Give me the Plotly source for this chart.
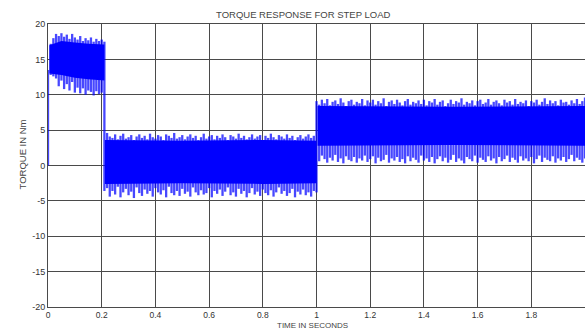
import numpy as np
import plotly.graph_objects as go

# ---- data (per-bin min / max of the torque signal, Nm) ----
# segment 1: 0.00 .. 0.21 s (bins every 0.01 s)
seg1_t = [round(0.01 * i, 3) for i in range(22)]
seg1_hi = [13.5, 17.2, 18.0, 18.6, 18.3, 18.7, 18.2, 18.5, 17.9, 18.6, 18.1,
           17.8, 18.3, 17.6, 18.0, 17.7, 18.1, 17.5, 17.9, 17.6, 17.8, 17.5]
seg1_lo = [0.0, 12.8, 12.6, 12.3, 11.2, 12.0, 10.8, 11.5, 10.6, 11.8, 10.3,
           11.0, 10.2, 10.9, 10.0, 10.6, 10.4, 9.9, 10.5, 10.1, 10.3, -3.6]

# segment 2: 0.22 .. 0.99 s
seg2_t = [round(0.22 + 0.01 * i, 3) for i in range(78)]
seg2_hi = [4.6, 4.1, 3.9, 4.4, 3.7, 4.2, 4.5, 3.8, 4.0, 4.3, 3.6, 4.1, 4.4, 3.9, 4.2, 3.7, 4.5, 4.0, 3.8, 4.3,
           4.1, 3.6, 4.4, 4.2, 3.9, 4.6, 3.8, 4.0, 4.3, 3.7, 4.1, 4.4, 3.9, 4.2, 3.6, 4.0, 4.5, 3.8, 4.1, 4.3,
           3.7, 4.2, 3.9, 4.4, 4.0, 3.6, 4.3, 4.1, 3.8, 4.5, 3.9, 4.2, 3.7, 4.0, 4.4, 3.8, 4.1, 4.3, 3.6, 4.2,
           3.9, 4.5, 4.0, 3.7, 4.3, 4.1, 3.8, 4.4, 3.9, 4.2, 3.6, 4.0, 4.3, 3.8, 4.1, 4.4, 3.9, 4.2]
seg2_lo = [-3.2, -4.4, -3.6, -4.1, -3.0, -4.5, -3.8, -3.3, -4.2, -3.7, -4.6, -3.1, -3.9, -4.3, -3.4, -4.0, -3.6, -4.4, -3.2, -3.8,
           -4.1, -3.5, -4.5, -3.0, -3.9, -4.2, -3.6, -4.3, -3.3, -4.0, -3.7, -4.4, -3.1, -3.8, -4.2, -3.5, -4.1, -3.9, -3.2, -4.5,
           -3.6, -4.0, -3.4, -4.3, -3.7, -3.1, -4.2, -3.8, -4.4, -3.3, -4.0, -3.6, -4.5, -3.9, -3.2, -4.1, -3.7, -4.3, -3.4, -3.9,
           -4.2, -3.5, -4.4, -3.8, -3.1, -4.0, -3.6, -4.3, -3.9, -3.3, -4.5, -3.7, -4.1, -3.4, -4.2, -3.8, -4.4, -3.6]

# segment 3: 1.00 .. 2.00 s
seg3_t = [round(1.0 + 0.01 * i, 3) for i in range(101)]
seg3_hi = [9.1, 8.6, 9.3, 8.8, 9.4, 8.5, 9.0, 9.2, 8.7, 9.5, 8.9, 8.4, 9.1, 9.3, 8.6, 9.0, 8.8, 9.4, 8.5, 9.2,
           8.9, 9.3, 8.6, 9.1, 8.8, 9.5, 8.4, 9.0, 9.2, 8.7, 9.3, 8.9, 8.5, 9.1, 9.4, 8.6, 9.0, 8.8, 9.2, 8.7,
           9.3, 8.5, 9.1, 8.9, 9.4, 8.6, 9.0, 9.2, 8.4, 8.8, 9.3, 8.7, 9.1, 8.9, 9.5, 8.6, 9.0, 8.8, 9.2, 8.5,
           9.1, 9.3, 8.7, 8.9, 9.4, 8.6, 9.0, 9.2, 8.8, 8.5, 9.3, 8.9, 9.1, 8.6, 9.4, 8.7, 9.0, 8.8, 9.2, 8.4,
           9.1, 8.9, 9.3, 8.6, 9.0, 9.5, 8.7, 9.2, 8.8, 9.1, 8.5, 9.3, 8.9, 9.0, 8.6, 9.2, 8.8, 9.4, 8.7, 9.1, 9.6]
seg3_lo = [-3.8, 0.6, 1.4, 0.9, 0.4, 1.1, 0.7, 1.5, 0.5, 1.0, 0.3, 1.3, 0.8, 0.6, 1.2, 0.4, 1.0, 0.7, 1.4, 0.5,
           0.9, 1.3, 0.3, 1.1, 0.6, 0.8, 1.5, 0.4, 1.0, 0.7, 1.2, 0.5, 0.9, 0.3, 1.3, 0.6, 1.1, 0.8, 0.4, 1.4,
           0.7, 1.0, 0.5, 1.2, 0.3, 0.9, 1.3, 0.6, 1.1, 0.4, 0.8, 1.5, 0.5, 1.0, 0.7, 0.3, 1.2, 0.9, 0.6, 1.4,
           0.4, 1.1, 0.8, 0.5, 1.3, 0.7, 1.0, 0.3, 1.2, 0.6, 0.9, 1.4, 0.5, 1.1, 0.8, 0.4, 1.3, 0.7, 1.0, 0.6,
           1.2, 0.3, 0.9, 1.4, 0.5, 1.1, 0.8, 0.6, 1.3, 0.4, 1.0, 0.7, 1.2, 0.5, 0.9, 1.5, 0.6, 1.1, 0.8, 0.4, 1.0]

# dense (solid-looking) core of each segment
core1_t = [0.005, 0.05, 0.10, 0.15, 0.21]
core1_hi = [17.0, 17.6, 17.4, 17.2, 17.1]
core1_lo = [13.0, 12.8, 12.4, 12.2, 12.0]
core2_t = [0.212, 0.5, 0.8, 1.0]
core2_hi = [3.6, 3.5, 3.6, 3.5]
core2_lo = [-2.6, -2.5, -2.6, -2.5]
core3_t = [1.004, 1.5, 2.0]
core3_hi = [8.4, 8.3, 8.4]
core3_lo = [2.8, 2.9, 2.8]

x_ticks = [round(0.2 * i, 1) for i in range(11)]
x_labels = ["0", "0.2", "0.4", "0.6", "0.8", "1", "1.2", "1.4", "1.6", "1.8", "2"]
y_ticks = [-20, -15, -10, -5, 0, 5, 10, 15, 20]
y_labels = ["-20", "-15", "-10", "-5", "0", "5", "10", "15", "20"]

BLUE = "#0000ff"

fig = go.Figure()

# core fills
for ct, chi, clo in [(core1_t, core1_hi, core1_lo), (core2_t, core2_hi, core2_lo), (core3_t, core3_hi, core3_lo)]:
    fig.add_trace(go.Scatter(x=ct + ct[::-1], y=chi + clo[::-1], fill="toself",
                             fillcolor=BLUE, line=dict(color=BLUE, width=0),
                             mode="lines", hoverinfo="skip", showlegend=False))

# min/max spikes
xs, ys = [], []
for tt, hh, ll in [(seg1_t, seg1_hi, seg1_lo), (seg2_t, seg2_hi, seg2_lo), (seg3_t, seg3_hi, seg3_lo)]:
    for t, h, l in zip(tt, hh, ll):
        xs += [t, t, None]
        ys += [l, h, None]
fig.add_trace(go.Scatter(x=xs, y=ys, mode="lines",
                         line=dict(color="rgba(0,0,255,0.72)", width=2.3),
                         hoverinfo="skip", showlegend=False))

font = dict(family="Liberation Sans, Arial, sans-serif", size=9, color="#333333")
xfont = dict(family="Liberation Sans, Arial, sans-serif", size=8.5, color="#333333")
grid_col = "#4a4a4a"

fig.update_layout(
    width=585, height=330,
    margin=dict(l=48, r=0, t=24, b=23),
    paper_bgcolor="white", plot_bgcolor="white",
    font=font,
    xaxis=dict(range=[0, 2.0], tickvals=x_ticks, ticktext=x_labels,
               showgrid=True, gridcolor=grid_col, gridwidth=1,
               showline=True, linecolor=grid_col, linewidth=1, mirror=True,
               zeroline=False, ticks="", tickfont=xfont),
    yaxis=dict(range=[-20, 20], tickvals=y_ticks, ticktext=y_labels,
               showgrid=True, gridcolor=grid_col, gridwidth=1,
               showline=True, linecolor=grid_col, linewidth=1, mirror=True,
               zeroline=False, ticks="", tickfont=font),
    annotations=[
        dict(text="TORQUE RESPONSE FOR STEP LOAD", xref="paper", yref="paper",
             x=(303 - 48) / 537, y=1, yanchor="bottom", yshift=2, showarrow=False,
             font=dict(family="Liberation Sans, Arial, sans-serif", size=9.5, color="#444444")),
        dict(text="TIME IN SECONDS", xref="paper", yref="paper",
             x=(312 - 48) / 537, y=0, yanchor="top", yshift=-13, showarrow=False,
             borderpad=0,
             font=dict(family="Liberation Sans, Arial, sans-serif", size=8, color="#444444")),
        dict(text="TORQUE IN Nm", xref="paper", yref="paper",
             x=0, xshift=-34, y=(307 - 155) / 283, textangle=-90, showarrow=False,
             font=dict(family="Liberation Sans, Arial, sans-serif", size=9.5, color="#444444")),
    ],
)

fig.write_html("out.html")
